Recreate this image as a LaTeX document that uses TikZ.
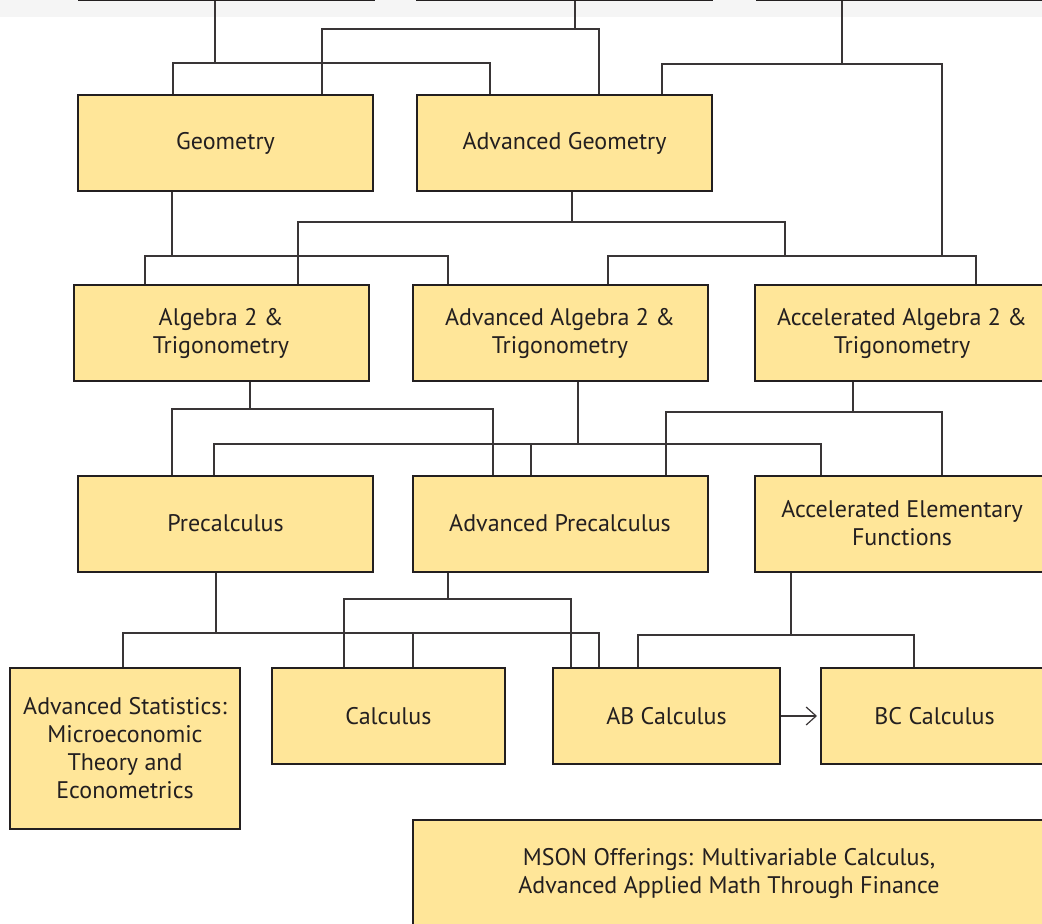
\documentclass[tikz,border=0pt]{standalone}
\usepackage{fontspec}
\setmainfont{PT Sans}
\usetikzlibrary{arrows.meta}
\definecolor{boxfill}{HTML}{FFE699}
\definecolor{ink}{HTML}{231F20}

\begin{document}
\begin{tikzpicture}[x=0.5pt, y=-0.5pt,
    course/.style={draw=ink, fill=boxfill, line width=1pt, text=ink,
        align=center, inner sep=0pt, minimum width=147.5pt, minimum height=48pt,
        font=\fontsize{12}{14}\selectfont},
    link/.style={draw=ink!90, line width=0.6pt}]
    \useasboundingbox (0,0) rectangle (1042,924);
    \fill[black!4] (0,0) rectangle (1042,17);

    \node[course, anchor=south] (top1) at (226.5,1) {};
    \node[course, anchor=south, minimum width=147.5pt] (top2) at (564.5,1) {};
    \node[course, anchor=south] (top3) at (904,1) {};

    \node[course] (geo) at (225.5,143) {Geometry};
    \node[course] (advgeo) at (564.5,143) {Advanced Geometry};

    \node[course] (alg) at (221,333.5) {Algebra 2 \&\\Trigonometry};
    \node[course] (advalg) at (560,333.5) {Advanced Algebra 2 \&\\Trigonometry};
    \node[course] (accalg) at (902,333.5) {Accelerated Algebra 2 \&\\Trigonometry};

    \node[course] (precalc) at (225.5,523.5) {Precalculus};
    \node[course] (advprecalc) at (560,523.5) {Advanced Precalculus};
    \node[course] (aef) at (902,523.5) {Accelerated Elementary\\Functions};

    \node[course, minimum width=115pt, minimum height=80.5pt] (stats) at (125,748.5)
        {Advanced Statistics:\\Microeconomic\\Theory and\\Econometrics};
    \node[course, minimum width=116.5pt] (calc) at (388.5,716) {Calculus};
    \node[course, minimum width=113.5pt] (ab) at (666.5,716) {AB Calculus};
    \node[course, minimum width=113.5pt] (bc) at (934.5,716) {BC Calculus};

    \node[course, minimum width=316pt, minimum height=53pt] (mson) at (729,873)
        {MSON Offerings: Multivariable Calculus,\\Advanced Applied Math Through Finance};

    \draw[link] (top1.south -| 215,0) -- (215,63);
    \draw[link] (geo.north -| 173,0) |- (490,63) -- (advgeo.north -| 490,0);
    \draw[link] (top2.south -| 575,0) -- (575,29);
    \draw[link] (geo.north -| 322,0) |- (599,29) -- (advgeo.north -| 599,0);
    \draw[link] (top3.south -| 842,0) -- (842,64);
    \draw[link] (advgeo.north -| 662,0) |- (942,64) -- (942,256);

    \draw[link] (geo.south -| 172,0) -- (172,256);
    \draw[link] (alg.north -| 145,0) |- (448,256) -- (advalg.north -| 448,0);
    \draw[link] (advgeo.south -| 572,0) -- (572,222);
    \draw[link] (alg.north -| 298,0) |- (785,222) -- (785,256);
    \draw[link] (advalg.north -| 608,0) |- (976,256) -- (accalg.north -| 976,0);

    \draw[link] (alg.south -| 250,0) -- (250,409);
    \draw[link] (precalc.north -| 172,0) |- (493,409) -- (advprecalc.north -| 493,0);
    \draw[link] (advalg.south -| 578,0) -- (578,444);
    \draw[link] (precalc.north -| 214,0) |- (821,444) -- (aef.north -| 821,0);
    \draw[link] (advprecalc.north -| 531,0) -- (531,444);
    \draw[link] (accalg.south -| 853,0) -- (853,412);
    \draw[link] (advprecalc.north -| 666,0) |- (942,412) -- (aef.north -| 942,0);

    \draw[link] (precalc.south -| 216,0) -- (216,633);
    \draw[link] (stats.north -| 123,0) |- (599,633) -- (ab.north -| 599,0);
    \draw[link] (calc.north -| 413,0) -- (413,633);
    \draw[link] (advprecalc.south -| 448,0) -- (448,599);
    \draw[link] (calc.north -| 344,0) |- (571,599) -- (ab.north -| 571,0);
    \draw[link] (aef.south -| 791,0) -- (791,635);
    \draw[link] (ab.north -| 638,0) |- (914,635) -- (bc.north -| 914,0);

    \draw[link, -{Straight Barb[length=5pt, width=9pt]}, shorten >=1.5pt] (ab) -- (bc);
\end{tikzpicture}
\end{document}
